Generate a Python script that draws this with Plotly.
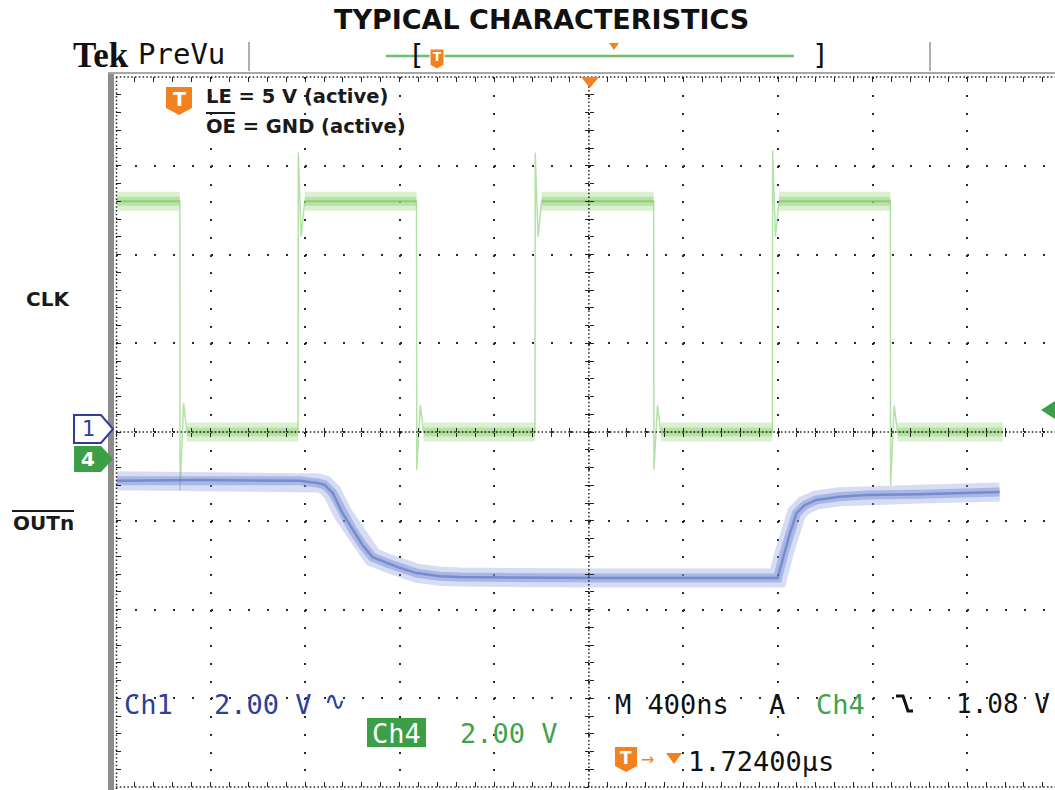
import plotly.graph_objects as go

# ------------------------------------------------------------------
# Data read from the oscilloscope capture
# time in ns (400 ns/div), screen volts at 2 V/div, 0 V = centre graticule
# ------------------------------------------------------------------
time_per_div_ns = 400
volts_per_div = 2.0

# CLK (Ch4, green)
clk_t_ns = [3, 270, 271, 286, 300, 770, 771, 783, 798, 1271, 1272, 1287, 1301,
            1772, 1773, 1785, 1800, 2274, 2275, 2290, 2304, 2776, 2777, 2789,
            2804, 3275, 3276, 3291, 3305, 3750]
clk_v = [5.2, 5.2, -1.3, 0.65, 0.0, 0.0, 6.3, 4.4, 5.2, 5.2, -0.85, 0.6, 0.0,
         0.0, 6.3, 4.4, 5.2, 5.2, -0.85, 0.6, 0.0, 0.0, 6.35, 4.4,
         5.2, 5.2, -1.2, 0.6, 0.0, 0.0]

# OUTn (Ch1, blue)
out_t_ns = [3, 354, 777, 853, 882, 916, 958, 1001, 1043, 1085, 1145, 1200, 1271,
            1369, 1453, 2045, 2798, 2827, 2848, 2878, 2912, 2962, 3059, 3174,
            3398, 3737]
out_v = [-1.10, -1.08, -1.10, -1.15, -1.19, -1.37, -1.83, -2.21, -2.55, -2.82,
         -2.95, -3.06, -3.18, -3.25, -3.27, -3.29, -3.29, -2.70, -2.32, -1.83,
         -1.65, -1.53, -1.46, -1.42, -1.40, -1.35]

center_t_ns = 2000  # trigger / horizontal centre

# ------------------------------------------------------------------
W, H = 1055, 790
SL, ST = 116, 77            # plot area top-left in screenshot px
PW, PH = 939, 710
DIV_PX = 94.58
x_max = PW / DIV_PX * time_per_div_ns
y_lim = 4 * volts_per_div

MONO = "DejaVu Sans Mono"
SANS = "DejaVu Sans"
BLUE_TXT = "#2e3d98"
GREEN_UI = "#3c9f47"
GREEN_TXT = "#3fa34d"
ORANGE = "#f4811f"


def X(p):
    return (p - SL) / PW


def Y(p):
    return (ST + PH - p) / PH


def flat_segments(t, v, min_len=60):
    bt, bv = [], []
    for i in range(len(t) - 1):
        if v[i] == v[i + 1] and t[i + 1] - t[i] >= min_len:
            bt += [t[i], t[i + 1], None]
            bv += [v[i], v[i + 1], None]
    return bt, bv


fig = go.Figure()

# green trace: thin path incl. edges, then noise band on flat levels
fig.add_trace(go.Scatter(x=clk_t_ns, y=clk_v, mode="lines",
                         line=dict(color="rgba(130,205,110,0.6)", width=1.5),
                         hoverinfo="skip"))
bt, bv = flat_segments(clk_t_ns, clk_v)
fig.add_trace(go.Scatter(x=bt, y=bv, mode="lines", connectgaps=False,
                         line=dict(color="rgba(160,215,135,0.38)", width=19),
                         hoverinfo="skip"))
fig.add_trace(go.Scatter(x=bt, y=bv, mode="lines", connectgaps=False,
                         line=dict(color="rgba(145,208,120,0.45)", width=9),
                         hoverinfo="skip"))
fig.add_trace(go.Scatter(x=bt, y=bv, mode="lines", connectgaps=False,
                         line=dict(color="rgba(125,195,100,0.4)", width=2.5),
                         hoverinfo="skip"))

# blue trace
fig.add_trace(go.Scatter(x=out_t_ns, y=out_v, mode="lines",
                         line=dict(color="rgba(135,155,220,0.35)", width=19),
                         hoverinfo="skip"))
fig.add_trace(go.Scatter(x=out_t_ns, y=out_v, mode="lines",
                         line=dict(color="rgba(115,138,210,0.45)", width=9),
                         hoverinfo="skip"))
fig.add_trace(go.Scatter(x=out_t_ns, y=out_v, mode="lines",
                         line=dict(color="rgba(85,110,195,0.6)", width=2.5),
                         hoverinfo="skip"))

# dummy traces so the overlay tick axes exist
for xa, ya in [("x2", "y"), ("x3", "y"), ("x4", "y"), ("x5", "y"),
               ("x", "y2"), ("x", "y3"), ("x", "y4")]:
    fig.add_trace(go.Scatter(x=[None], y=[None], xaxis=xa, yaxis=ya,
                             mode="lines", hoverinfo="skip"))

TICK = "#222"
base_x = dict(range=[0, x_max], showgrid=False, zeroline=False,
              showticklabels=False, showline=False, fixedrange=True,
              tick0=0, dtick=time_per_div_ns / 5, tickcolor=TICK, tickwidth=1)
base_y = dict(range=[-y_lim, y_lim], showgrid=False, zeroline=False,
              showticklabels=False, showline=False, fixedrange=True,
              tick0=0, dtick=volts_per_div / 5, tickcolor=TICK, tickwidth=1)

xc_paper = X(SL + center_t_ns / time_per_div_ns * DIV_PX)

fig.update_layout(
    width=W, height=H,
    margin=dict(l=SL, r=W - SL - PW, t=ST, b=H - ST - PH),
    paper_bgcolor="white", plot_bgcolor="white",
    showlegend=False, hovermode=False,
    xaxis=dict(range=[0, x_max], tick0=0, dtick=time_per_div_ns,
               showgrid=True, gridcolor="#2a2a2a", gridwidth=2,
               griddash="2px,15.75px", zeroline=False, showticklabels=False,
               ticks="", showline=False, fixedrange=True),
    yaxis=dict(range=[-y_lim, y_lim], tick0=0, dtick=volts_per_div,
               showgrid=True, gridcolor="#2a2a2a", gridwidth=2,
               griddash="2px,16.916px", zeroline=False, showticklabels=False,
               ticks="", showline=False, fixedrange=True),
    xaxis2=dict(base_x, overlaying="x", anchor="y", side="bottom",
                ticks="inside", ticklen=5),
    xaxis3=dict(base_x, overlaying="x", anchor="y", side="top",
                ticks="inside", ticklen=5),
    xaxis4=dict(base_x, overlaying="x", anchor="free", position=0.5,
                side="bottom", ticks="outside", ticklen=4),
    xaxis5=dict(base_x, overlaying="x", anchor="free", position=0.5,
                side="bottom", ticks="inside", ticklen=4),
    yaxis2=dict(base_y, overlaying="y", anchor="x", side="left",
                ticks="inside", ticklen=5),
    yaxis3=dict(base_y, overlaying="y", anchor="free", position=xc_paper,
                side="left", ticks="outside", ticklen=4),
    yaxis4=dict(base_y, overlaying="y", anchor="free", position=xc_paper,
                side="left", ticks="inside", ticklen=4),
)

shapes = []
annotations = []


def pline(x0, y0, x1, y1, color, width, dash=None):
    shapes.append(dict(type="line", xref="paper", yref="paper",
                       x0=X(x0), y0=Y(y0), x1=X(x1), y1=Y(y1),
                       line=dict(color=color, width=width, dash=dash)))


def ppath(pts, fill, line_color=None, line_width=0):
    d = "M " + " L ".join(f"{X(a):.5f},{Y(b):.5f}" for a, b in pts) + " Z"
    shapes.append(dict(type="path", xref="paper", yref="paper", path=d,
                       fillcolor=fill,
                       line=dict(color=line_color or fill, width=line_width)))


def txt(s, x, y, size, color="#111", family=MONO, xanchor="left"):
    annotations.append(dict(text=s, x=X(x), y=Y(y), xref="paper", yref="paper",
                            showarrow=False, xanchor=xanchor, yanchor="middle",
                            font=dict(size=size, color=color, family=family)))


# dense dotted centre lines and borders
DD = "1.5px,2.3px"
shapes.append(dict(type="line", xref="paper", yref="y", x0=0, x1=1, y0=0, y1=0,
                   line=dict(color="#222", width=1.5, dash=DD)))
shapes.append(dict(type="line", xref="x", yref="paper", x0=center_t_ns,
                   x1=center_t_ns, y0=0, y1=1,
                   line=dict(color="#222", width=1.5, dash=DD)))
pline(116, 77, 1055, 77, "#222", 1.5, DD)
pline(116, 787, 1055, 787, "#222", 1.5, DD)
pline(116.5, 77, 116.5, 790, "#222", 1.5, DD)

# screen frame
shapes.append(dict(type="rect", xref="paper", yref="paper",
                   x0=X(108), x1=X(114), y0=Y(792), y1=Y(73),
                   fillcolor="#8c8c8c", line=dict(width=0)))
pline(108, 73, 1056, 73, "#a8a8a8", 2)

# header
pline(249, 42, 249, 71, "#b0b0b0", 2)
pline(930, 42, 930, 71, "#b0b0b0", 2)
pline(386, 56, 794, 56, "#6dbf6a", 2.5)
ppath([(609, 43), (619, 43), (614, 50)], ORANGE)
ppath([(430, 49), (444, 49), (444, 65), (437, 69), (430, 65)], ORANGE, "white", 1)
txt("<b>T</b>", 437, 57, 12, "white", SANS, "center")
txt("[", 406, 55, 28, "#111", MONO)
txt("]", 810, 55, 28, "#111", MONO)
txt("<b>Tek</b>", 71, 55, 35, "#111", "Liberation Serif")
txt("PreVu", 136, 54, 29, "#111", MONO)

# title
txt("<b>TYPICAL CHARACTERISTICS</b>", 541.5, 19, 27, "#111", SANS, "center")

# trigger position marker
ppath([(581, 77), (599, 77), (590, 88)], ORANGE)

# T marker + condition text
ppath([(166, 87), (192, 87), (192, 108), (179, 115), (166, 108)], ORANGE)
txt("<b>T</b>", 179, 99, 19, "white", SANS, "center")
txt("<b>LE = 5 V (active)</b>", 204, 97, 19.5, "#1a1a1a", SANS)
txt("<b>OE = GND (active)</b>", 204, 126, 19.5, "#1a1a1a", SANS)
pline(206, 113, 235, 113, "#1a1a1a", 2)

# channel names outside
txt("<b>CLK</b>", 24, 299, 20, "#1a1a1a", SANS)
txt("<b>OUTn</b>", 11, 523, 20, "#1a1a1a", SANS)
pline(12, 511, 74, 511, "#1a1a1a", 2)

# channel ground markers
ppath([(74, 415), (101, 415), (113, 429), (101, 443), (74, 443)], "white",
      BLUE_TXT, 2)
txt("1", 88, 429, 21, BLUE_TXT, SANS, "center")
ppath([(74, 446), (101, 446), (113, 459), (101, 472), (74, 472)], GREEN_UI)
txt("<b>4</b>", 88, 459, 20, "white", SANS, "center")

# trigger level arrow (right)
ppath([(1055, 401), (1055, 419), (1041, 410)], GREEN_UI)

# bottom readouts
FS = 27
txt("Ch1", 122, 704, FS, BLUE_TXT)
txt("2.00 V", 212, 704, FS, BLUE_TXT)
txt("∿", 322, 701, 26, BLUE_TXT, SANS)
shapes.append(dict(type="rect", xref="paper", yref="paper",
                   x0=X(367), x1=X(426), y0=Y(747), y1=Y(718),
                   fillcolor=GREEN_UI, line=dict(width=0)))
txt("Ch4", 396.5, 733, FS, "white", MONO, "center")
txt("2.00 V", 458, 733, FS, GREEN_TXT)
txt("M 400ns", 613, 704, FS, "#111")
txt("A", 767, 704, FS, "#111")
txt("Ch4", 814, 704, FS, GREEN_TXT)
shapes.append(dict(type="path", xref="paper", yref="paper",
                   path=(f"M {X(896):.5f},{Y(696):.5f} L {X(903):.5f},{Y(696):.5f} "
                         f"L {X(908):.5f},{Y(711):.5f} L {X(913):.5f},{Y(711):.5f}"),
                   line=dict(color="#111", width=3)))
txt("1.08 V", 954, 704, 26, "#111")
ppath([(615, 747), (637, 747), (637, 766), (626, 772), (615, 766)], ORANGE)
txt("<b>T</b>", 626, 758, 17, "white", SANS, "center")
txt("→", 639, 759, 16, ORANGE, SANS)
ppath([(666, 753), (682, 753), (674, 764)], ORANGE)
txt("1.72400µs", 686, 761, FS, "#111")

fig.update_layout(shapes=shapes, annotations=annotations)

# place the figure at the page's top-left corner (no default body margin)
fig.write_html("out.html",
               config={"displayModeBar": False, "staticPlot": True},
               post_script="document.body.style.margin='0';"
                           "document.body.style.overflow='hidden';")
